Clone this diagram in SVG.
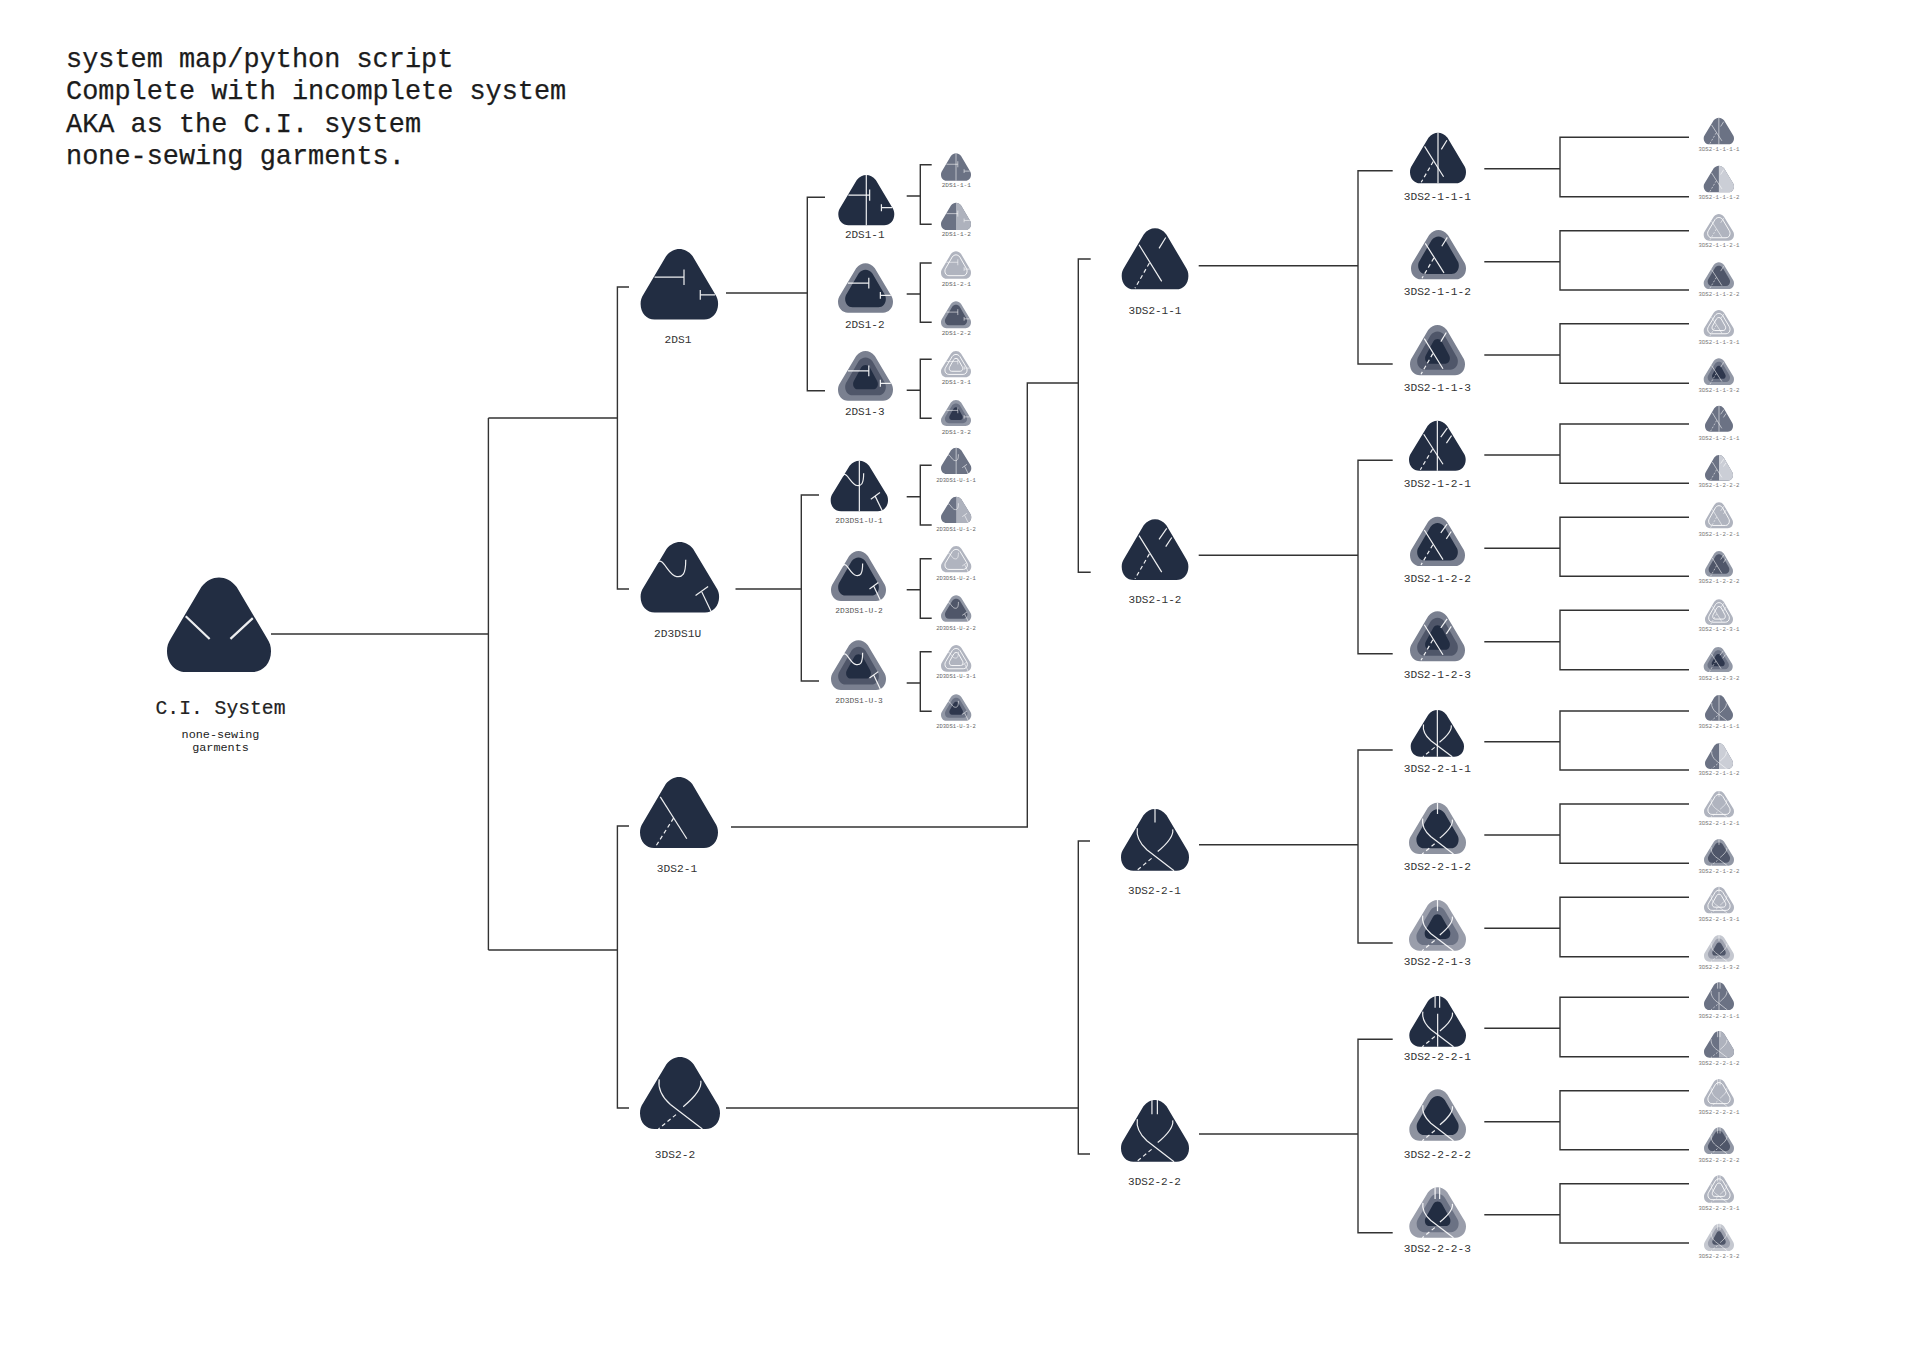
<svg xmlns="http://www.w3.org/2000/svg" width="1932" height="1364" viewBox="0 0 1932 1364">
<style>
text{font-family:"Liberation Mono","Courier New",monospace;text-anchor:middle;fill:#222}
.title text{text-anchor:start;font-size:26.9px;fill:#1c1c1c;stroke:#1c1c1c;stroke-width:.25}
.conn path{fill:none;stroke:#333;stroke-width:1.4}
.seam{fill:none;stroke:#fff;stroke-width:var(--w,1.5);stroke-opacity:var(--o,.92)}
.seam *{vector-effect:non-scaling-stroke}
.dash{stroke-dasharray:var(--d,4 3)}
.n0{--w:2.2;--d:5 4}
.n1{--w:1.2;--d:4 3}
.n2{--w:1.2;--d:4 3}
.n3{--w:.8;--d:2 1.5;--o:.7}
.l0{font-size:19.7px;stroke:#222;stroke-width:.2}
.l0s{font-size:11.8px}
.l1{font-size:11.2px;fill:#333}
.l2{font-size:11px;fill:#333}
.l2u{font-size:7.9px;fill:#555}
.l3{font-size:6.1px;fill:#666}
.l3u{font-size:5.5px;fill:#666}
.l4{font-size:5.7px;fill:#777}
</style>
<defs>
<path id="t" vector-effect="non-scaling-stroke" d="M33 10C38 3 44 0 50 0C56 0 62 3 67 10L96 64C99 69 100 73 100 78C100 91 92 100 82 100L18 100C8 100 0 91 0 78C0 73 1 69 4 64Z"/>
<use id="t1" href="#t" transform="translate(13 13) scale(.74 .76)"/>
<use id="t2" href="#t" transform="translate(27.5 28) scale(.45 .49)"/>
<clipPath id="rh"><rect x="50" y="0" width="50" height="100"/></clipPath>
<g id="m1"><use href="#t" fill="#222d42"/></g>
<g id="m2"><use href="#t" fill="#7a8090"/><use href="#t1" fill="#222d42"/></g>
<g id="m3"><use href="#t" fill="#7a8090"/><use href="#t1" fill="#4f5669"/><use href="#t2" fill="#222d42"/></g>
<g id="m2L"><use href="#t" fill="#8e93a0"/><use href="#t1" fill="#222d42"/></g>
<g id="m3L"><use href="#t" fill="#9a9eab"/><use href="#t1" fill="#6b7284"/><use href="#t2" fill="#222d42"/></g>
<g id="c1"><use href="#t" fill="#6b7284"/></g>
<g id="c2"><use href="#t" fill="#6b7284"/><g clip-path="url(#rh)"><use href="#t" fill="#aeb2bd"/></g></g>
<g id="c2L"><use href="#t" fill="#6b7284"/><g clip-path="url(#rh)"><use href="#t" fill="#cbced6"/></g></g>
<g id="c3"><use href="#t" fill="#b0b4bf"/><use href="#t1" fill="none" stroke="#fff" stroke-width=".9"/></g>
<g id="c4"><use href="#t" fill="#9298a6"/><use href="#t1" fill="#4f5669"/></g>
<g id="c5"><use href="#t" fill="#b0b4bf"/><use href="#t1" fill="none" stroke="#fff" stroke-width=".9"/><use href="#t2" fill="none" stroke="#fff" stroke-width=".9"/></g>
<g id="c6"><use href="#t" fill="#9298a6"/><use href="#t1" fill="#6b7284"/><use href="#t2" fill="#2e374d"/></g>
<g id="c6L"><use href="#t" fill="#c5c8d0"/><use href="#t1" fill="#9da1ae"/><use href="#t2" fill="#4f5669"/></g>
<g id="v" class="seam"><path d="M50 0V100"/></g>
<g id="v2" class="seam"><path d="M50 35V100"/></g>
<g id="s0" class="seam"><path d="M18 41L41 65M82.5 43L61 65"/></g>
<g id="sA" class="seam"><path d="M18 40H56M56 29V51M77 65H96M77 58V72"/></g>
<g id="sU" class="seam"><path d="M21 30C28 18 35 48 46 49C53 50 57.500 47 57.500 25M90 99L78 71M70 76L86 63"/></g>
<g id="sB" class="seam"><path d="M26 28L60 87"/><path class="dash" d="M43 58L20 98"/></g>
<g id="s11" class="seam"><path d="M26 27L60 87M66 15L56 33"/><path class="dash" d="M41.500 57L20 98"/></g>
<g id="s12" class="seam"><path d="M26 27L60 87M67.500 15L56 33M75 30L66 45"/><path class="dash" d="M41.500 57L20 98"/></g>
<g id="sC" class="seam"><path d="M24 31C22 45 30 58 38 66L78 100M76 33C78 45 66 58 54 69"/><path class="dash" d="M45 80L23 100"/></g>
<g id="s21"><use href="#sC"/><g class="seam"><path d="M50 0V22"/></g></g>
<g id="s22"><use href="#sC"/><g class="seam"><path d="M45.500 0V23M53.500 0V23"/></g></g>
</defs>
<rect width="1932" height="1364" fill="#fff"/>
<g class="title" id="title">
<text x="66" y="67">system map/python script</text>
<text x="66" y="99">Complete with incomplete system</text>
<text x="66" y="131.500">AKA as the C.I. system</text>
<text x="66" y="163.500">none-sewing garments.</text>
</g>
<g id="connectors" class="conn">
<path d="M271 634H488.400M488.400 418V950"/>
<path d="M488.400 418H617.400M629 287H617.400V589H629"/>
<path d="M488.400 950H617.400M629 826H617.400V1108H629"/>
<path d="M726 293H807.300M825 197.300H807.300V390.700H825"/>
<path d="M735.500 589H801.300M819 495H801.300V681H819"/>
<path d="M906.700 196H920.300M931.700 164.700H920.300V224.300H931.700"/>
<path d="M906.700 294H920.300M931.700 263H920.300V322.300H931.700"/>
<path d="M906.700 390.300H920.300M931.700 359.300H920.300V418.300H931.700"/>
<path d="M906.700 496.700H920.300M931.700 465.300H920.300V525H931.700"/>
<path d="M906.700 589.700H920.300M931.700 558.700H920.300V618.300H931.700"/>
<path d="M906.700 683H920.300M931.700 651.700H920.300V711.300H931.700"/>
<path d="M731 827H1027.300V383H1078.300M1090.700 259H1078.300V572.300H1090.700"/>
<path d="M726 1108H1078.300M1090 841H1078.300V1154H1090"/>
<path d="M1198.700 265.700H1358M1392.700 170.700H1358V364H1392.700"/>
<path d="M1198.700 555.300H1358M1392.700 460.300H1358V653.700H1392.700"/>
<path d="M1199 844.700H1358M1392.700 750H1358V943H1392.700"/>
<path d="M1199 1134H1358M1392.700 1039.300H1358V1232.700H1392.700"/>
<path d="M1484.300 168.700H1560M1689 137.300H1560V196.700H1689"/>
<path d="M1484.300 261.700H1560M1689 230.700H1560V290H1689"/>
<path d="M1484.300 355H1560M1689 323.700H1560V383.300H1689"/>
<path d="M1484.300 455H1560M1689 424H1560V483.300H1689"/>
<path d="M1484.300 548.300H1560M1689 517.300H1560V576.300H1689"/>
<path d="M1484.300 641.700H1560M1689 610.300H1560V669.700H1689"/>
<path d="M1484.300 741.700H1560M1689 711H1560V770H1689"/>
<path d="M1484.300 835H1560M1689 804H1560V863.300H1689"/>
<path d="M1484.300 928.300H1560M1689 897.300H1560V956.700H1689"/>
<path d="M1484.300 1028.300H1560M1689 997.300H1560V1056.700H1689"/>
<path d="M1484.300 1121.700H1560M1689 1090.700H1560V1149.700H1689"/>
<path d="M1484.300 1214.700H1560M1689 1183.700H1560V1243H1689"/>
</g>
<g id="n-CI" class="n0"><g transform="translate(167 577.500) scale(1.04 .945)"><use href="#m1"/><use href="#s0"/></g><text class="l0" x="220.500" y="714">C.I. System</text><text class="l0s" x="220.500" y="737.500">none-sewing</text><text class="l0s" x="220.500" y="751">garments</text></g>

<g id="n-2DS1" class="n1"><g transform="translate(640.600 249) scale(.775 .705)"><use href="#m1"/><use href="#sA"/></g><text class="l1" x="678" y="343">2DS1</text></g>
<g id="n-2D3DS1U" class="n1"><g transform="translate(640.600 542) scale(.785 .705)"><use href="#m1"/><use href="#sU"/></g><text class="l1" x="677.600" y="637">2D3DS1U</text></g>
<g id="n-3DS2-1" class="n1"><g transform="translate(640 777) scale(.78 .71)"><use href="#m1"/><use href="#sB"/></g><text class="l1" x="677" y="872">3DS2-1</text></g>
<g id="n-3DS2-2" class="n1"><g transform="translate(640 1057) scale(.8 .72)"><use href="#m1"/><use href="#sC"/></g><text class="l1" x="675" y="1158">3DS2-2</text></g>

<g id="n-2DS1-1" class="n2"><g transform="translate(838.300 175) scale(.56 .503)"><use href="#m1"/><use href="#sA"/><use href="#v"/></g><text class="l2" x="864.700" y="237.700">2DS1-1</text></g>
<g id="n-2DS1-2" class="n2"><g transform="translate(838 263.300) scale(.55 .494)"><use href="#m2"/><use href="#sA"/></g><text class="l2" x="864.700" y="327.700">2DS1-2</text></g>
<g id="n-2DS1-3" class="n2"><g transform="translate(838 351) scale(.55 .497)"><use href="#m3"/><use href="#sA"/></g><text class="l2" x="864.700" y="415">2DS1-3</text></g>

<g id="n-2DS1-1-1" class="n3"><g transform="translate(941 153.300) scale(.3 .274)"><use href="#c1"/><use href="#sA"/><use href="#v"/></g><text class="l3" x="956.300" y="187.300">2DS1-1-1</text></g>
<g id="n-2DS1-1-2" class="n3"><g transform="translate(941 202.700) scale(.3 .273)"><use href="#c2"/><use href="#sA"/></g><text class="l3" x="956.300" y="236.300">2DS1-1-2</text></g>
<g id="n-2DS1-2-1" class="n3"><g transform="translate(941 251.300) scale(.3 .274)"><use href="#c3"/><use href="#sA"/></g><text class="l3" x="956.300" y="286.300">2DS1-2-1</text></g>
<g id="n-2DS1-2-2" class="n3"><g transform="translate(941 301.300) scale(.3 .27)"><use href="#c4"/><use href="#sA"/></g><text class="l3" x="956.300" y="335.300">2DS1-2-2</text></g>
<g id="n-2DS1-3-1" class="n3"><g transform="translate(941 351) scale(.3 .263)"><use href="#c5"/><use href="#sA"/></g><text class="l3" x="956.300" y="384">2DS1-3-1</text></g>
<g id="n-2DS1-3-2" class="n3"><g transform="translate(941 400) scale(.3 .26)"><use href="#c6"/><use href="#sA"/></g><text class="l3" x="956.300" y="433.700">2DS1-3-2</text></g>

<g id="n-2D3DS1-U-1" class="n2"><g transform="translate(830.700 460.700) scale(.573 .506)"><use href="#m1"/><use href="#sU"/><use href="#v"/></g><text class="l2u" x="859" y="522.700">2D3DS1-U-1</text></g>
<g id="n-2D3DS1-U-2" class="n2"><g transform="translate(831 551) scale(.55 .5)"><use href="#m2"/><use href="#sU"/></g><text class="l2u" x="859" y="612.700">2D3DS1-U-2</text></g>
<g id="n-2D3DS1-U-3" class="n2"><g transform="translate(831 640.300) scale(.55 .497)"><use href="#m3"/><use href="#sU"/></g><text class="l2u" x="859" y="703.300">2D3DS1-U-3</text></g>

<g id="n-2D3DS1-U-1-1" class="n3"><g transform="translate(941 447.700) scale(.303 .263)"><use href="#c1"/><use href="#sU"/><use href="#v"/></g><text class="l3u" x="956" y="481.700">2D3DS1-U-1-1</text></g>
<g id="n-2D3DS1-U-1-2" class="n3"><g transform="translate(941 496.700) scale(.303 .263)"><use href="#c2"/><use href="#sU"/></g><text class="l3u" x="956" y="531.300">2D3DS1-U-1-2</text></g>
<g id="n-2D3DS1-U-2-1" class="n3"><g transform="translate(941 546) scale(.303 .263)"><use href="#c3"/><use href="#sU"/></g><text class="l3u" x="956" y="580.300">2D3DS1-U-2-1</text></g>
<g id="n-2D3DS1-U-2-2" class="n3"><g transform="translate(941 595.300) scale(.303 .264)"><use href="#c4"/><use href="#sU"/></g><text class="l3u" x="956" y="629.700">2D3DS1-U-2-2</text></g>
<g id="n-2D3DS1-U-3-1" class="n3"><g transform="translate(941 645) scale(.303 .267)"><use href="#c5"/><use href="#sU"/></g><text class="l3u" x="956" y="678.300">2D3DS1-U-3-1</text></g>
<g id="n-2D3DS1-U-3-2" class="n3"><g transform="translate(941 694.300) scale(.303 .264)"><use href="#c6"/><use href="#sU"/></g><text class="l3u" x="956" y="727.700">2D3DS1-U-3-2</text></g>

<g id="n-3DS2-1-1" class="n1"><g transform="translate(1121.700 228.300) scale(.667 .61)"><use href="#m1"/><use href="#s11"/></g><text class="l2" x="1155" y="314">3DS2-1-1</text></g>
<g id="n-3DS2-1-2" class="n1"><g transform="translate(1121.700 519.300) scale(.667 .607)"><use href="#m1"/><use href="#s12"/></g><text class="l2" x="1155" y="603.300">3DS2-1-2</text></g>
<g id="n-3DS2-2-1" class="n1"><g transform="translate(1121 809) scale(.68 .617)"><use href="#m1"/><use href="#s21"/></g><text class="l2" x="1154.500" y="894">3DS2-2-1</text></g>
<g id="n-3DS2-2-2" class="n1"><g transform="translate(1121 1100) scale(.68 .617)"><use href="#m1"/><use href="#s22"/></g><text class="l2" x="1154.500" y="1184.700">3DS2-2-2</text></g>

<g id="n-3DS2-1-1-1" class="n2"><g transform="translate(1410 132.700) scale(.56 .506)"><use href="#m1"/><use href="#s11"/><use href="#v"/></g><text class="l1" x="1437.300" y="200">3DS2-1-1-1</text></g>
<g id="n-3DS2-1-1-2" class="n2"><g transform="translate(1411 230) scale(.55 .493)"><use href="#m2"/><use href="#s11"/></g><text class="l1" x="1437.300" y="295">3DS2-1-1-2</text></g>
<g id="n-3DS2-1-1-3" class="n2"><g transform="translate(1410 325) scale(.55 .503)"><use href="#m3"/><use href="#s11"/></g><text class="l1" x="1437.300" y="391">3DS2-1-1-3</text></g>
<g id="n-3DS2-1-2-1" class="n2"><g transform="translate(1409 420.700) scale(.567 .5)"><use href="#m1"/><use href="#s12"/><use href="#v"/></g><text class="l1" x="1437.300" y="486.700">3DS2-1-2-1</text></g>
<g id="n-3DS2-1-2-2" class="n2"><g transform="translate(1410 516.700) scale(.55 .493)"><use href="#m2"/><use href="#s12"/></g><text class="l1" x="1437.300" y="582">3DS2-1-2-2</text></g>
<g id="n-3DS2-1-2-3" class="n2"><g transform="translate(1410 611.300) scale(.55 .5)"><use href="#m3"/><use href="#s12"/></g><text class="l1" x="1437.300" y="678.300">3DS2-1-2-3</text></g>
<g id="n-3DS2-2-1-1" class="n2"><g transform="translate(1410.700 710) scale(.533 .467)"><use href="#m1"/><use href="#sC"/><use href="#v"/></g><text class="l1" x="1437.300" y="771.700">3DS2-2-1-1</text></g>
<g id="n-3DS2-2-1-2" class="n2"><g transform="translate(1409 802.700) scale(.57 .513)"><use href="#m2L"/><use href="#s21"/></g><text class="l1" x="1437.300" y="870">3DS2-2-1-2</text></g>
<g id="n-3DS2-2-1-3" class="n2"><g transform="translate(1409 900) scale(.57 .507)"><use href="#m3L"/><use href="#s21"/></g><text class="l1" x="1437.300" y="965">3DS2-2-1-3</text></g>
<g id="n-3DS2-2-2-1" class="n2"><g transform="translate(1409.300 996) scale(.567 .507)"><use href="#m1"/><use href="#s22"/><use href="#v2"/></g><text class="l1" x="1437.300" y="1060">3DS2-2-2-1</text></g>
<g id="n-3DS2-2-2-2" class="n2"><g transform="translate(1409.300 1089.300) scale(.567 .514)"><use href="#m2L"/><use href="#sC"/></g><text class="l1" x="1437.300" y="1157.700">3DS2-2-2-2</text></g>
<g id="n-3DS2-2-2-3" class="n2"><g transform="translate(1409.300 1187.300) scale(.567 .504)"><use href="#m3L"/><use href="#s22"/></g><text class="l1" x="1437.300" y="1252">3DS2-2-2-3</text></g>

<g id="n-3DS2-1-1-1-1" class="n3"><g transform="translate(1703.700 117.700) scale(.303 .266)"><use href="#c1"/><use href="#s11"/><use href="#v"/></g><text class="l4" x="1719" y="151.300">3DS2-1-1-1-1</text></g>
<g id="n-3DS2-1-1-1-2" class="n3"><g transform="translate(1703.700 165.700) scale(.303 .266)"><use href="#c2L"/><use href="#s11"/></g><text class="l4" x="1719" y="199.300">3DS2-1-1-1-2</text></g>
<g id="n-3DS2-1-1-2-1" class="n3"><g transform="translate(1703.700 214) scale(.303 .267)"><use href="#c3"/><use href="#s11"/></g><text class="l4" x="1719" y="247.300">3DS2-1-1-2-1</text></g>
<g id="n-3DS2-1-1-2-2" class="n3"><g transform="translate(1703.700 262.300) scale(.303 .267)"><use href="#c4"/><use href="#s11"/></g><text class="l4" x="1719" y="295.700">3DS2-1-1-2-2</text></g>
<g id="n-3DS2-1-1-3-1" class="n3"><g transform="translate(1703.700 310) scale(.303 .267)"><use href="#c5"/><use href="#s11"/></g><text class="l4" x="1719" y="343.700">3DS2-1-1-3-1</text></g>
<g id="n-3DS2-1-1-3-2" class="n3"><g transform="translate(1703.700 358.300) scale(.303 .267)"><use href="#c6"/><use href="#s11"/></g><text class="l4" x="1719" y="391.700">3DS2-1-1-3-2</text></g>

<g id="n-3DS2-1-2-1-1" class="n3"><g transform="translate(1705 405.700) scale(.28 .26)"><use href="#c1"/><use href="#s12"/><use href="#v"/></g><text class="l4" x="1719" y="440">3DS2-1-2-1-1</text></g>
<g id="n-3DS2-1-2-1-2" class="n3"><g transform="translate(1705 455) scale(.28 .257)"><use href="#c2L"/><use href="#s12"/></g><text class="l4" x="1719" y="487">3DS2-1-2-2-2</text></g>
<g id="n-3DS2-1-2-2-1" class="n3"><g transform="translate(1705 502.300) scale(.28 .26)"><use href="#c3"/><use href="#s12"/></g><text class="l4" x="1719" y="535.700">3DS2-1-2-2-1</text></g>
<g id="n-3DS2-1-2-2-2" class="n3"><g transform="translate(1705 551) scale(.28 .257)"><use href="#c4"/><use href="#s12"/></g><text class="l4" x="1719" y="583.300">3DS2-1-2-2-2</text></g>
<g id="n-3DS2-1-2-3-1" class="n3"><g transform="translate(1705 599.300) scale(.28 .257)"><use href="#c5"/><use href="#s12"/></g><text class="l4" x="1719" y="631">3DS2-1-2-3-1</text></g>
<g id="n-3DS2-1-2-3-2" class="n3"><g transform="translate(1703.700 647) scale(.29 .25)"><use href="#c6"/><use href="#s12"/></g><text class="l4" x="1719" y="680">3DS2-1-2-3-2</text></g>

<g id="n-3DS2-2-1-1-1" class="n3"><g transform="translate(1705 695) scale(.28 .257)"><use href="#c1"/><use href="#sC"/><use href="#v"/></g><text class="l4" x="1719" y="727.700">3DS2-2-1-1-1</text></g>
<g id="n-3DS2-2-1-1-2" class="n3"><g transform="translate(1705 743.300) scale(.28 .257)"><use href="#c2L"/><use href="#sC"/></g><text class="l4" x="1719" y="775.300">3DS2-2-1-1-2</text></g>
<g id="n-3DS2-2-1-2-1" class="n3"><g transform="translate(1704 791) scale(.3 .263)"><use href="#c3"/><use href="#s21"/></g><text class="l4" x="1719" y="824.700">3DS2-2-1-2-1</text></g>
<g id="n-3DS2-2-1-2-2" class="n3"><g transform="translate(1704 839) scale(.3 .267)"><use href="#c4"/><use href="#s21"/></g><text class="l4" x="1719" y="872.700">3DS2-2-1-2-2</text></g>
<g id="n-3DS2-2-1-3-1" class="n3"><g transform="translate(1704 886.700) scale(.3 .266)"><use href="#c5"/><use href="#s21"/></g><text class="l4" x="1719" y="921">3DS2-2-1-3-1</text></g>
<g id="n-3DS2-2-1-3-2" class="n3"><g transform="translate(1704 935) scale(.3 .267)"><use href="#c6L"/><use href="#s21"/></g><text class="l4" x="1719" y="968.700">3DS2-2-1-3-2</text></g>

<g id="n-3DS2-2-2-1-1" class="n3"><g transform="translate(1704 982.300) scale(.3 .277)"><use href="#c1"/><use href="#s22"/><use href="#v2"/></g><text class="l4" x="1719" y="1017.700">3DS2-2-2-1-1</text></g>
<g id="n-3DS2-2-2-1-2" class="n3"><g transform="translate(1704 1031) scale(.3 .267)"><use href="#c2"/><use href="#s22"/></g><text class="l4" x="1719" y="1065.300">3DS2-2-2-1-2</text></g>
<g id="n-3DS2-2-2-2-1" class="n3"><g transform="translate(1704 1079) scale(.3 .277)"><use href="#c3"/><use href="#s22"/></g><text class="l4" x="1719" y="1113.700">3DS2-2-2-2-1</text></g>
<g id="n-3DS2-2-2-2-2" class="n3"><g transform="translate(1704 1127.300) scale(.3 .267)"><use href="#c4"/><use href="#s22"/></g><text class="l4" x="1719" y="1161.700">3DS2-2-2-2-2</text></g>
<g id="n-3DS2-2-2-3-1" class="n3"><g transform="translate(1704 1175.300) scale(.3 .274)"><use href="#c5"/><use href="#s22"/></g><text class="l4" x="1719" y="1209.700">3DS2-2-2-3-1</text></g>
<g id="n-3DS2-2-2-3-2" class="n3"><g transform="translate(1704 1223.700) scale(.3 .273)"><use href="#c6L"/><use href="#s22"/></g><text class="l4" x="1719" y="1257.700">3DS2-2-2-3-2</text></g>
</svg>
